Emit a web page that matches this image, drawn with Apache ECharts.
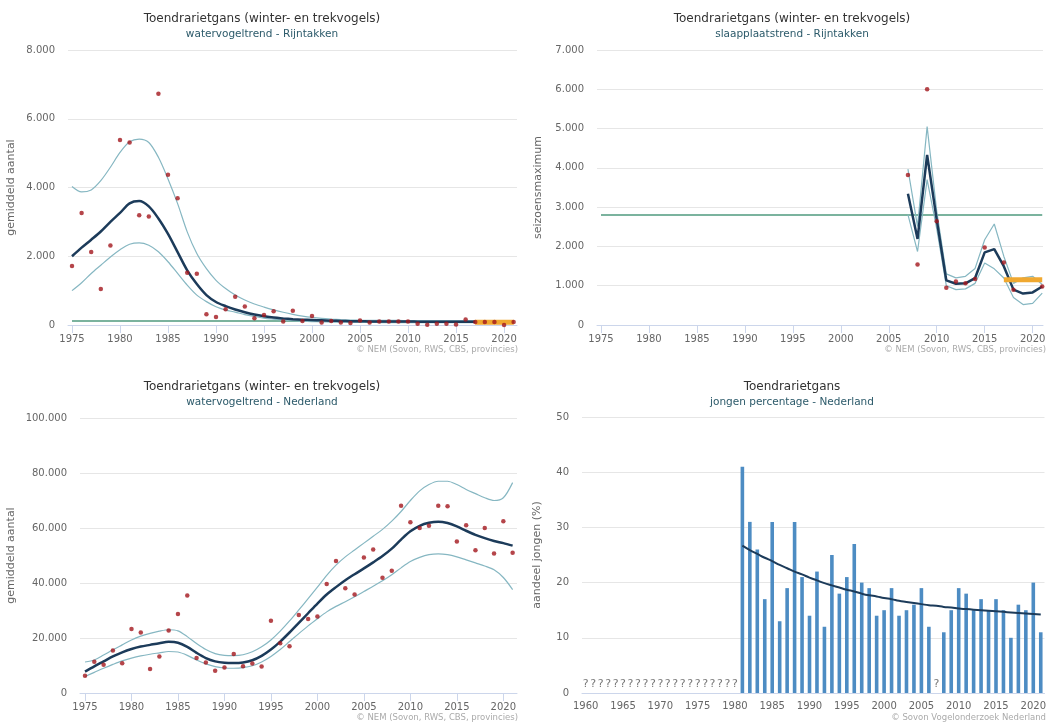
<!DOCTYPE html>
<html>
<head>
<meta charset="utf-8">
<script src="https://cdn.jsdelivr.net/npm/echarts@6/dist/echarts.min.js"></script>
<style>html,body{margin:0;padding:0;background:#fff;}#c{width:1049px;height:722px;}</style>
</head>
<body>
<div id="c"></div>
<script>
// ---------- Panel 1: watervogeltrend - Rijntakken ----------
var yearsWV = [1975,1976,1977,1978,1979,1980,1981,1982,1983,1984,1985,1986,1987,1988,1989,1990,1991,1992,1993,1994,1995,1996,1997,1998,1999,2000,2001,2002,2003,2004,2005,2006,2007,2008,2009,2010,2011,2012,2013,2014,2015,2016,2017,2018,2019,2020,2021];
var rijnTrend = [2000,2250,2480,2720,3000,3260,3540,3605,3450,3100,2650,2120,1590,1190,870,670,550,450,370,305,255,215,190,170,155,145,135,125,118,112,108,105,102,100,100,100,97,95,95,95,95,95,95,95,95,95,95];
var rijnUpper = [4030,3870,3930,4200,4590,5020,5330,5410,5310,4880,4250,3530,2710,2080,1640,1300,1060,870,725,610,520,440,370,310,260,220,190,170,155,145,140,137,135,133,132,131,130,130,130,130,130,130,130,130,130,130,130];
var rijnLower = [1000,1230,1500,1740,1980,2190,2350,2390,2320,2130,1840,1500,1160,870,680,530,435,375,300,250,200,170,145,125,110,100,92,86,82,78,76,74,72,71,70,70,70,70,70,70,70,70,70,70,70,70,70];
var rijnCounts = [1720,3255,2125,1050,2310,5380,5310,3190,3160,6730,4370,3690,1520,1490,310,230,460,820,540,200,290,400,100,415,115,260,70,120,70,60,130,70,100,100,100,100,40,10,40,40,15,160,90,90,90,0,90];
var rijnRef = 120;
var rijnRecent = 80;

// ---------- Panel 2: slaapplaatstrend - Rijntakken ----------
var yearsSP = [2007,2008,2009,2010,2011,2012,2013,2014,2015,2016,2017,2018,2019,2020,2021];
var spTrend = [3340,2190,4330,2680,1135,1050,1060,1195,1850,1930,1490,900,800,830,980];
var spUpper = [3970,2510,5050,2900,1300,1200,1240,1440,2170,2570,1745,1060,1200,1240,1030];
var spLower = [2810,1870,3700,2450,1000,900,920,1060,1580,1430,1195,700,520,550,810];
var spCounts = [3820,1540,6000,2640,950,1110,1060,1170,1975,null,1590,900,null,null,980];
var spRef = 2800;
var spRecent = 1150;

// ---------- Panel 3: watervogeltrend - Nederland ----------
var nlTrend = [7800,9700,11500,13300,14800,16000,16900,17500,18100,18600,18300,16800,14600,12700,11500,11000,10900,11100,11900,13500,15800,18700,22000,25500,29000,32500,35800,38500,41000,43200,45300,47500,49800,52500,55800,58800,60800,61900,62300,61800,60600,59000,57500,56300,55300,54500,53600];
var nlUpper = [11270,12000,13800,15700,17500,19300,20700,21700,22500,23000,22600,20500,18000,15800,14300,13700,13600,13900,15000,16800,19300,22500,26200,30200,34300,38500,42800,46500,49500,52000,54500,57000,59500,62500,66000,70000,73500,75800,77000,77000,75800,74000,72500,71000,70000,71000,76500];
var nlLower = [6000,7500,9000,10400,11700,12700,13500,14100,14600,15100,14900,13700,12000,10600,9600,9100,9000,9200,9900,11300,13300,15800,18700,21600,24400,27000,29500,31500,33200,35000,36900,38800,40800,43000,45500,47800,49300,50300,50600,50300,49500,48400,47300,46200,44800,42000,37600];
var nlCounts = [6300,11400,10300,15500,10800,23300,22000,8700,13300,22700,28700,35500,12700,11100,8100,9300,14200,9700,10700,9600,26300,18100,17000,28400,26900,27800,39600,48000,38100,35800,49300,52200,41900,44500,68100,62100,60000,60800,68100,67900,55100,61000,51900,60000,50700,62500,51000];

// ---------- Panel 4: jongen percentage - Nederland ----------
var yearsJ = ['1960','1961','1962','1963','1964','1965','1966','1967','1968','1969','1970','1971','1972','1973','1974','1975','1976','1977','1978','1979','1980','1981','1982','1983','1984','1985','1986','1987','1988','1989','1990','1991','1992','1993','1994','1995','1996','1997','1998','1999','2000','2001','2002','2003','2004','2005','2006','2007','2008','2009','2010','2011','2012','2013','2014','2015','2016','2017','2018','2019','2020','2021'];
var jongPct = [null,null,null,null,null,null,null,null,null,null,null,null,null,null,null,null,null,null,null,null,null,41,31,26,17,31,13,19,31,21,14,22,12,25,18,21,27,20,19,14,15,19,14,15,16,19,12,null,11,15,19,18,15,17,15,17,15,10,16,15,20,11];
var jongTrend = [null,null,null,null,null,null,null,null,null,null,null,null,null,null,null,null,null,null,null,null,null,26.7,25.9,25.2,24.5,23.9,23.2,22.6,22.0,21.5,20.9,20.4,19.9,19.5,19.1,18.7,18.4,18.0,17.7,17.5,17.2,17.0,16.7,16.5,16.3,16.1,15.9,15.8,15.6,15.5,15.3,15.2,15.1,15.0,14.9,14.8,14.7,14.6,14.5,14.4,14.3,14.2];
var missingYears = ['1960','1961','1962','1963','1964','1965','1966','1967','1968','1969','1970','1971','1972','1973','1974','1975','1976','1977','1978','1979','1980','2007'];

var xTickYears = [1975,1980,1985,1990,1995,2000,2005,2010,2015,2020];

// ---------- styles ----------
var FONT = 'DejaVu Sans';
var cTrend = '#1c3b5a', cCI = '#86b7c2', cDot = '#a3171d', cRef = '#4f9a7e', cRecent = '#f0a830', cBar = '#4d8cc3';

function fmt(v){ return String(v).replace(/\B(?=(\d{3})+(?!\d))/g, '.'); }
function pairs(xs, ys){ return xs.map(function(x,i){ return [x, ys[i]]; }); }

function valX(idx, min, max){
  return {
    type:'value', gridIndex:idx, min:min, max:max,
    axisLine:{show:true, lineStyle:{color:'#ccd6eb'}},
    axisTick:{show:true, customValues:xTickYears, length:8, lineStyle:{color:'#ccd6eb'}},
    axisLabel:{customValues:xTickYears, color:'#666', fontSize:10, fontFamily:FONT, margin:9,
               formatter:function(v){ return String(Math.round(v)); }},
    splitLine:{show:false}
  };
}
function valY(idx, max, interval, name, gap){
  return {
    type:'value', gridIndex:idx, min:0, max:max, interval:interval,
    name:name, nameLocation:'middle', nameGap:gap, nameRotate:90,
    nameTextStyle:{color:'#666', fontSize:11, fontFamily:FONT},
    axisLine:{show:false}, axisTick:{show:false},
    axisLabel:{color:'#666', fontSize:10, fontFamily:FONT, margin:13, formatter:fmt},
    splitLine:{lineStyle:{color:'#e6e6e6'}}
  };
}
function line(idx, data, color, width, smooth, z){
  return {type:'line', xAxisIndex:idx, yAxisIndex:idx, data:data, showSymbol:false, symbol:'none', smooth:smooth,
    lineStyle:{color:color, width:width}, z:z, silent:true, connectNulls:false};
}
function dots(idx, data){
  return {type:'scatter', xAxisIndex:idx, yAxisIndex:idx, data:data, symbolSize:4.5, itemStyle:{color:cDot}, z:10};
}

var chart = echarts.init(document.getElementById('c'), null, {renderer:'canvas'});

function ttl(x, y, t, sub){
  return [
    {type:'text', x:x, y:y, style:{text:t, fill:'#333', font:'12px "'+FONT+'"', textAlign:'center', textVerticalAlign:'middle'}},
    {type:'text', x:x, y:y+15, style:{text:sub, fill:'#2c5a6a', font:'10.5px "'+FONT+'"', textAlign:'center', textVerticalAlign:'middle'}}
  ];
}
function credit(x, y, t){
  return {type:'text', x:x, y:y, style:{text:t, fill:'#aaa', font:'8.5px "'+FONT+'"', textAlign:'right', textVerticalAlign:'middle'}};
}

var graphics = [].concat(
  ttl(262, 19, 'Toendrarietgans (winter- en trekvogels)', 'watervogeltrend - Rijntakken'),
  ttl(792, 19, 'Toendrarietgans (winter- en trekvogels)', 'slaapplaatstrend - Rijntakken'),
  ttl(262, 387, 'Toendrarietgans (winter- en trekvogels)', 'watervogeltrend - Nederland'),
  ttl(792, 387, 'Toendrarietgans', 'jongen percentage - Nederland'),
  [credit(518, 350, '© NEM (Sovon, RWS, CBS, provincies)'),
   credit(1046, 350, '© NEM (Sovon, RWS, CBS, provincies)'),
   credit(518, 718, '© NEM (Sovon, RWS, CBS, provincies)'),
   credit(1046, 718, '© Sovon Vogelonderzoek Nederland')]
);

var option = {
  animation:false,
  textStyle:{fontFamily:FONT},
  graphic:graphics,
  grid:[
    {left:68, top:50, width:449, height:275},
    {left:597, top:50, width:446, height:275},
    {left:80, top:418, width:437, height:275},
    {left:582, top:417, width:465, height:276}
  ],
  xAxis:[
    valX(0, 1974.583, 2021.35),
    valX(1, 1974.583, 2021.08),
    valX(2, 1974.462, 2021.47),
    {type:'category', gridIndex:3, data:yearsJ, boundaryGap:true,
     axisLine:{lineStyle:{color:'#ccd6eb'}},
     axisTick:{alignWithLabel:true, interval:4, length:8, lineStyle:{color:'#ccd6eb'}},
     axisLabel:{interval:4, color:'#666', fontSize:10, fontFamily:FONT, margin:8}}
  ],
  yAxis:[
    valY(0, 8000, 2000, 'gemiddeld aantal', 51),
    valY(1, 7000, 1000, 'seizoensmaximum', 53),
    valY(2, 100000, 20000, 'gemiddeld aantal', 63),
    valY(3, 50, 10, 'aandeel jongen (%)', 39)
  ],
  series:[
    // panel 1
    line(0, [[1975, rijnRef],[2021, rijnRef]], cRef, 1.5, false, 2),
    line(0, pairs(yearsWV, rijnUpper), cCI, 1.2, 0.3, 3),
    line(0, pairs(yearsWV, rijnLower), cCI, 1.2, 0.3, 3),
    line(0, pairs(yearsWV, rijnTrend), cTrend, 2.5, 0.3, 4),
    line(0, [[2017, rijnRecent],[2021, rijnRecent]], cRecent, 5, false, 5),
    dots(0, pairs(yearsWV, rijnCounts)),
    // panel 2
    line(1, [[1975, spRef],[2021, spRef]], cRef, 1.5, false, 2),
    line(1, pairs(yearsSP, spUpper), cCI, 1.2, false, 3),
    line(1, pairs(yearsSP, spLower), cCI, 1.2, false, 3),
    line(1, pairs(yearsSP, spTrend), cTrend, 2.5, false, 4),
    line(1, [[2017, spRecent],[2021, spRecent]], cRecent, 5, false, 5),
    dots(1, pairs(yearsSP, spCounts).filter(function(p){return p[1]!==null;})),
    // panel 3
    line(2, pairs(yearsWV, nlUpper), cCI, 1.2, 0.3, 3),
    line(2, pairs(yearsWV, nlLower), cCI, 1.2, 0.3, 3),
    line(2, pairs(yearsWV, nlTrend), cTrend, 2.5, 0.3, 4),
    dots(2, pairs(yearsWV, nlCounts)),
    // panel 4
    {type:'bar', xAxisIndex:3, yAxisIndex:3, data:jongPct, barWidth:3.6, itemStyle:{color:cBar}, z:2},
    {type:'line', xAxisIndex:3, yAxisIndex:3, data:jongTrend, showSymbol:false, symbol:'none', smooth:true,
     lineStyle:{color:cTrend, width:2}, z:5},
    {type:'scatter', xAxisIndex:3, yAxisIndex:3, data:missingYears.map(function(y){return [y, 0];}),
     symbolSize:1, itemStyle:{color:'rgba(0,0,0,0)'},
     label:{show:true, formatter:'?', position:'top', distance:3, color:'#555', fontSize:11, fontFamily:FONT}, z:6}
  ]
};
chart.setOption(option);
</script>
</body>
</html>
